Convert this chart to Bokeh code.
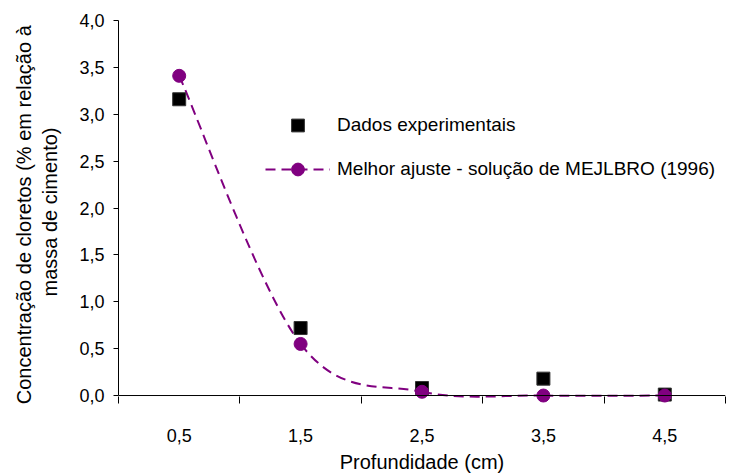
from bokeh.plotting import figure
from bokeh.models import Range1d, FixedTicker, Legend, LegendItem, Span
from bokeh.embed import file_html
from bokeh.resources import INLINE

# ---- data ----
depth = [0.5, 1.5, 2.5, 3.5, 4.5]
depth_labels = ["0,5", "1,5", "2,5", "3,5", "4,5"]
exp_vals = [3.16, 0.72, 0.08, 0.18, 0.01]
fit_vals = [3.41, 0.55, 0.04, 0.00, 0.00]
y_ticks = [0.0, 0.5, 1.0, 1.5, 2.0, 2.5, 3.0, 3.5, 4.0]
y_tick_labels = ["0,0", "0,5", "1,0", "1,5", "2,0", "2,5", "3,0", "3,5", "4,0"]
x_bounds = [0, 1, 2, 3, 4, 5]

FONT = "Liberation Sans"
PURPLE = "#800080"

p = figure(width=740, height=475, output_backend="svg", toolbar_location=None,
           x_range=Range1d(0, 5), y_range=Range1d(-0.085, 4.0),
           min_border_left=118, min_border_right=15, min_border_top=20,
           min_border_bottom=72)
p.outline_line_color = None
p.grid.visible = False

# smoothed (Excel-like) curve through the fitted points, drawn with bezier glyphs
n = len(depth)
bx0, by0, bx1, by1, cx0, cy0, cx1, cy1 = [], [], [], [], [], [], [], []
for i in range(n - 1):
    im = max(i - 1, 0)
    ip = min(i + 2, n - 1)
    bx0.append(depth[i]); by0.append(fit_vals[i])
    bx1.append(depth[i + 1]); by1.append(fit_vals[i + 1])
    cx0.append(depth[i] + (depth[i + 1] - depth[im]) / 6)
    cy0.append(fit_vals[i] + (fit_vals[i + 1] - fit_vals[im]) / 6)
    cx1.append(depth[i + 1] - (depth[ip] - depth[i]) / 6)
    cy1.append(fit_vals[i + 1] - (fit_vals[ip] - fit_vals[i]) / 6)
p.bezier(x0=bx0, y0=by0, x1=bx1, y1=by1, cx0=cx0, cy0=cy0, cx1=cx1, cy1=cy1,
         line_color=PURPLE, line_width=2, line_dash="10 6")

sq = p.scatter(depth, exp_vals, marker="square", size=13,
               fill_color="black", line_color="#333333", line_width=1)
ci = p.scatter(depth, fit_vals, marker="circle", size=13,
               fill_color=PURPLE, line_color=PURPLE, line_width=1)
# legend-only line (a single NaN point draws nothing on the plot)
dummy = p.line(x=[float("nan")], y=[float("nan")], line_color=PURPLE,
               line_width=2, line_dash="10 6")

p.add_layout(Span(location=0, dimension="width", line_color="black", line_width=1))

# x axis
xa = p.xaxis[0]
xa.ticker = FixedTicker(ticks=depth, minor_ticks=x_bounds)
xa.major_label_overrides = dict(zip(depth, depth_labels))
xa.axis_line_color = None
xa.major_tick_line_color = None
xa.major_tick_in = 0
xa.major_tick_out = 0
xa.minor_tick_line_color = "black"
xa.minor_tick_in = 7
xa.minor_tick_out = 0
xa.major_label_standoff = 25
xa.major_label_text_font = FONT
xa.major_label_text_font_size = "18px"
xa.major_label_text_color = "black"
xa.axis_label = "Profundidade (cm)"
xa.axis_label_text_font = FONT
xa.axis_label_text_font_size = "20px"
xa.axis_label_text_font_style = "normal"
xa.axis_label_text_color = "black"
xa.axis_label_standoff = 6

# y axis
ya = p.yaxis[0]
ya.ticker = FixedTicker(ticks=y_ticks)
ya.major_label_overrides = dict(zip(y_ticks, y_tick_labels))
ya.bounds = (0, 4)
ya.axis_line_color = "black"
ya.major_tick_line_color = "black"
ya.major_tick_in = 0
ya.major_tick_out = 5
ya.minor_tick_line_color = None
ya.major_label_standoff = 9
ya.major_label_text_font = FONT
ya.major_label_text_font_size = "18px"
ya.major_label_text_color = "black"
ya.axis_label = "Concentração de cloretos  (% em relação à\nmassa de cimento)"
ya.axis_label_text_font = FONT
ya.axis_label_text_font_size = "20px"
ya.axis_label_text_font_style = "normal"
ya.axis_label_text_color = "black"
ya.axis_label_standoff = 15

legend = Legend(items=[
    LegendItem(label="Dados experimentais", renderers=[sq]),
    LegendItem(label="Melhor ajuste - solução de MEJLBRO (1996)", renderers=[dummy, ci]),
], location=(147, 218), glyph_width=65, glyph_height=32, label_height=32,
    spacing=12, label_standoff=7, padding=0, margin=0,
    border_line_color=None, background_fill_alpha=0,
    label_text_font=FONT, label_text_font_size="19px", label_text_color="black")
p.add_layout(legend)

open("out.html", "w").write(file_html(p, INLINE))
